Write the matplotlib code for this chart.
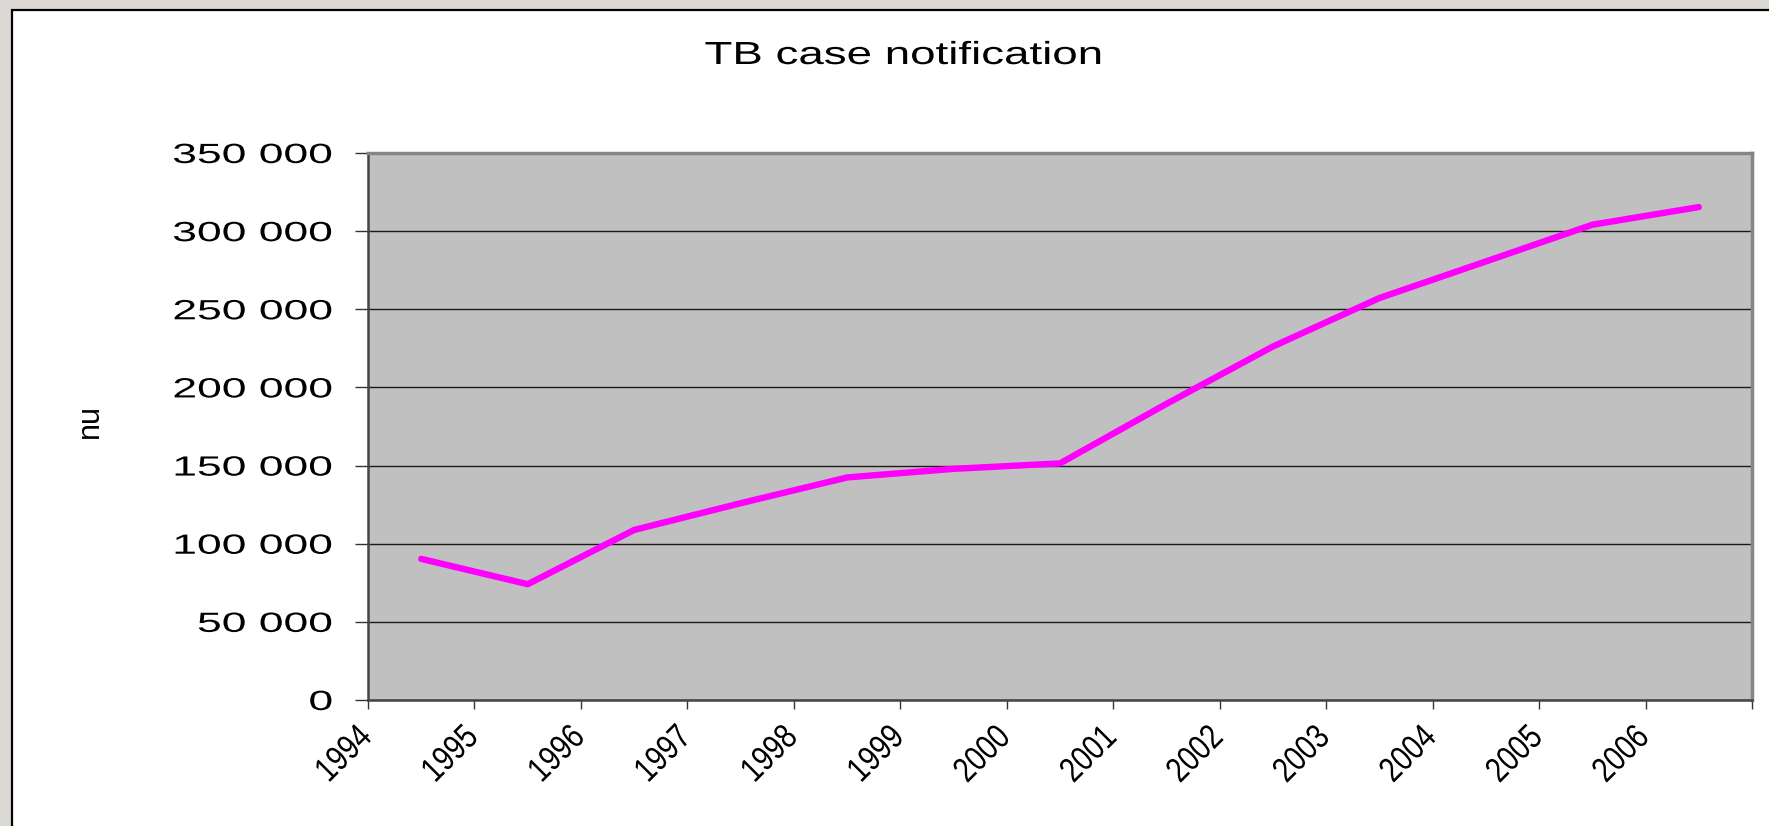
import matplotlib
matplotlib.use("Agg")
import matplotlib.pyplot as plt
from matplotlib.patches import Rectangle
from matplotlib.patheffects import AbstractPathEffect
from matplotlib.transforms import Affine2D, ScaledTranslation

# ---- data ----
years = ["1994", "1995", "1996", "1997", "1998", "1999", "2000",
         "2001", "2002", "2003", "2004", "2005", "2006"]
cases = [90300, 74100, 108800, 125900, 142400, 147900, 151400,
         189500, 226200, 257200, 280600, 304100, 315400]
ytick_values = [0, 50000, 100000, 150000, 200000, 250000, 300000, 350000]
ytick_labels = ["0", "50 000", "100 000", "150 000", "200 000",
                "250 000", "300 000", "350 000"]
title = "TB case notification"
ylabel = "nu"


class HStretch(AbstractPathEffect):
    """Stretch text glyphs horizontally (along the baseline)."""
    def __init__(self, sx, anchor="center"):
        super().__init__()
        self.sx = sx
        self.anchor = anchor

    def draw_path(self, renderer, gc, tpath, affine, rgbFace=None):
        ext = tpath.get_extents()
        if self.anchor == "left":
            cx = ext.x0
        elif self.anchor == "right":
            cx = ext.x1
        else:
            cx = 0.5 * (ext.x0 + ext.x1)
        t = Affine2D().translate(-cx, 0).scale(self.sx, 1).translate(cx, 0) + affine
        renderer.draw_path(gc, tpath, t, rgbFace)


W, H = 1769, 826
plt.rcParams["font.family"] = ["Liberation Sans", "DejaVu Sans"]
fig = plt.figure(figsize=(W / 100, H / 100), dpi=100)
fig.patch.set_facecolor("#dcd9d4")

# white frame (behind everything)
frame = Rectangle((12 / W, -0.05), 1.2, (H - 10) / H + 0.05,
                  transform=fig.transFigure, facecolor="white",
                  edgecolor="black", linewidth=1.6, zorder=-10)
fig.patches.append(frame)

ax = fig.add_axes([368 / W, (H - 700) / H, 1384 / W, 547 / H])
ax.set_zorder(1)
ax.set_facecolor("#c0c0c0")

x = [i + 0.5 for i in range(len(years))]
ax.plot(x, cases, color="#ff00ff", linewidth=4.6, solid_capstyle="round",
        solid_joinstyle="round", zorder=3)

ax.set_xlim(0, len(years))
ax.set_ylim(0, 350000)
ax.set_yticks(ytick_values)
ax.set_yticklabels(ytick_labels, fontsize=20)
ax.set_xticks(range(len(years) + 1))
ax.set_xticklabels(years + [""], fontsize=25, rotation=45, ha="right",
                   rotation_mode="anchor")

ax.grid(axis="y", color="#1a1a1a", linewidth=1.0)
ax.set_axisbelow(True)
ax.tick_params(axis="y", direction="out", length=9.5, width=1.0,
               color="#333333", pad=16)
ax.tick_params(axis="x", direction="out", length=6.5, width=1.0,
               color="#333333", pad=8)

for side in ["left", "bottom"]:
    ax.spines[side].set_color("#444444")
    ax.spines[side].set_linewidth(1.8)
for side in ["top", "right"]:
    ax.spines[side].set_color("#858585")
    ax.spines[side].set_linewidth(2.5)

for lab in ax.get_yticklabels():
    lab.set_path_effects([HStretch(1.6, "right")])
shift = ScaledTranslation(-0.13, 0, fig.dpi_scale_trans)
for lab in ax.get_xticklabels():
    lab.set_path_effects([HStretch(0.82, "right")])
    lab.set_transform(lab.get_transform() + shift)

t = fig.text(904 / W, 1 - 64 / H, title, ha="center", va="baseline",
             fontsize=23)
t.set_path_effects([HStretch(1.43, "center")])

fig.text(90 / W, 1 - 421 / H, ylabel, ha="center", va="center",
         rotation=90, fontsize=22)

fig.savefig("out.png", dpi=100, facecolor=fig.get_facecolor())
